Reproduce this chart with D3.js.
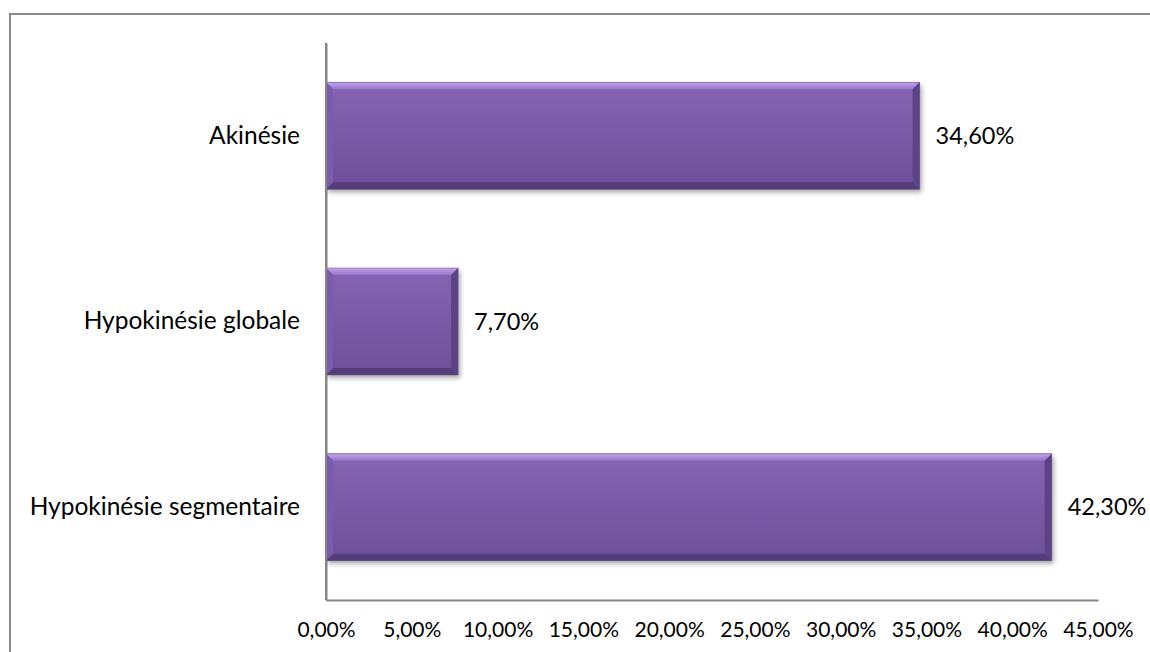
<!DOCTYPE html>
<html>
<head>
<meta charset="utf-8">
<script src="https://cdn.jsdelivr.net/npm/d3@7"></script>
<style>
  html, body { margin: 0; padding: 0; background: #fff; }
  svg { display: block; }
  text { font-family: Lato, "Open Sans", sans-serif; fill: #000; }
</style>
</head>
<body>
<svg id="chart" width="1150" height="652"></svg>
<script>
const categories = ["Akinésie", "Hypokinésie globale", "Hypokinésie segmentaire"];
const values = [0.346, 0.077, 0.423];
const valueLabels = ["34,60%", "7,70%", "42,30%"];
const tickValues = [0, 0.05, 0.10, 0.15, 0.20, 0.25, 0.30, 0.35, 0.40, 0.45];
const tickLabels = ["0,00%", "5,00%", "10,00%", "15,00%", "20,00%", "25,00%", "30,00%", "35,00%", "40,00%", "45,00%"];

const svg = d3.select("#chart");

// outer chart border (cropped)
svg.append("rect")
  .attr("x", 10).attr("y", 14)
  .attr("width", 1200).attr("height", 700)
  .attr("fill", "none")
  .attr("stroke", "#8a8a8a")
  .attr("stroke-width", 2);

const x = d3.scaleLinear().domain([0, 0.45]).range([326, 1098]);
const y = d3.scaleBand().domain(categories).range([43, 600])
  .paddingInner(0.424).paddingOuter(0.212);

const defs = svg.append("defs");
const face = defs.append("linearGradient").attr("id", "face")
  .attr("x1", 0).attr("y1", 0).attr("x2", 0).attr("y2", 1);
face.append("stop").attr("offset", "0%").attr("stop-color", "#8565b3");
face.append("stop").attr("offset", "100%").attr("stop-color", "#6d4f99");
const topB = defs.append("linearGradient").attr("id", "topB")
  .attr("x1", 0).attr("y1", 0).attr("x2", 0).attr("y2", 1);
topB.append("stop").attr("offset", "0%").attr("stop-color", "#c3a2ef");
topB.append("stop").attr("offset", "100%").attr("stop-color", "#9474c6");
const shadow = defs.append("filter").attr("id", "shadow")
  .attr("x", "-5%").attr("y", "-10%").attr("width", "115%").attr("height", "130%");
shadow.append("feDropShadow").attr("dx", 2).attr("dy", 3).attr("stdDeviation", 2.5)
  .attr("flood-color", "#000").attr("flood-opacity", 0.35);

// axes
const xAxis = d3.axisBottom(x).tickValues(tickValues)
  .tickFormat((d, i) => tickLabels[i]).tickSize(0).tickPadding(22);
const gx = svg.append("g").attr("transform", "translate(0,600)").call(xAxis);
gx.select(".domain").attr("stroke", "#868686").attr("stroke-width", 2);
gx.selectAll("text").attr("font-size", 21).attr("font-family", "Lato, 'Open Sans', sans-serif").attr("fill", "#000");

const yAxis = d3.axisLeft(y).tickSize(0).tickPadding(26);
const gy = svg.append("g").attr("transform", "translate(326,0)").call(yAxis);
gy.select(".domain").attr("stroke", "#868686").attr("stroke-width", 2);
gy.selectAll("text").attr("font-size", 24.5).attr("font-family", "Lato, 'Open Sans', sans-serif").attr("fill", "#000");

// bars with bevel
const data = categories.map((c, i) => ({ c, v: values[i], label: valueLabels[i] }));
const b = 7;
const bars = svg.append("g").selectAll("g.bar").data(data).join("g").attr("class", "bar");
bars.each(function(d) {
  const g = d3.select(this);
  const x0 = x(0), x1 = x(d.v), y0 = y(d.c), y1 = y(d.c) + y.bandwidth();
  g.append("rect").attr("x", x0).attr("y", y0).attr("width", x1 - x0).attr("height", y1 - y0)
    .attr("fill", "#7658a5").attr("filter", "url(#shadow)");
  g.append("rect").attr("x", x0).attr("y", y0).attr("width", x1 - x0).attr("height", y1 - y0)
    .attr("fill", "url(#face)");
  g.append("polygon").attr("points", [[x0, y0], [x1, y0], [x1 - b, y0 + b], [x0 + b, y0 + b]].join(" "))
    .attr("fill", "url(#topB)");
  g.append("polygon").attr("points", [[x0, y1], [x1, y1], [x1 - b, y1 - b], [x0 + b, y1 - b]].join(" "))
    .attr("fill", "#553d7a");
  g.append("polygon").attr("points", [[x0, y0], [x0 + b, y0 + b], [x0 + b, y1 - b], [x0, y1]].join(" "))
    .attr("fill", "#7a5cae");
  g.append("polygon").attr("points", [[x1, y0], [x1 - b, y0 + b], [x1 - b, y1 - b], [x1, y1]].join(" "))
    .attr("fill", "#5c4385");
  g.append("rect").attr("x", x0).attr("y", y0).attr("width", x1 - x0).attr("height", y1 - y0)
    .attr("fill", "none").attr("stroke", "#6a5a80").attr("stroke-opacity", 0.5).attr("stroke-width", 1);
  g.append("text").attr("x", x1 + 16).attr("y", (y0 + y1) / 2).attr("dy", "0.35em")
    .attr("font-size", 23.5).text(d.label);
});

svg.append("line").attr("x1", 326).attr("x2", 326).attr("y1", 43).attr("y2", 600)
  .attr("stroke", "#868686").attr("stroke-width", 2);
</script>
</body>
</html>
